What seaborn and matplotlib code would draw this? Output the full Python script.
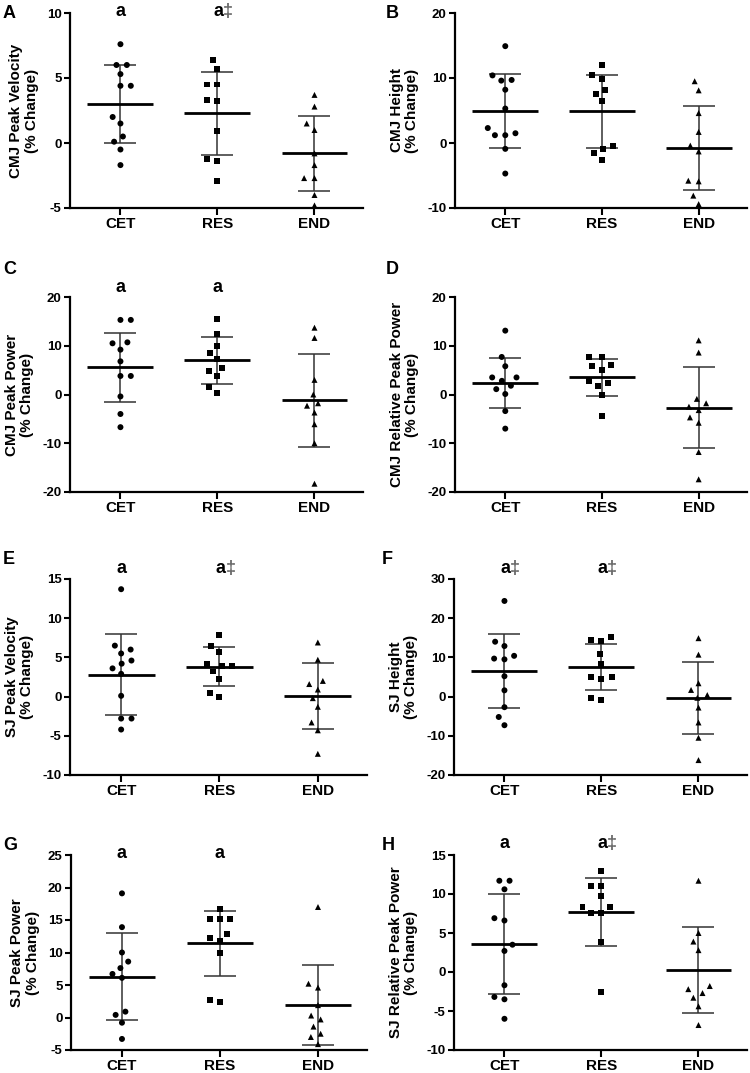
import pandas as pd
import matplotlib.pyplot as plt
import matplotlib.transforms as mtransforms
import seaborn as sns

groups = ['CET', 'RES', 'END']
markers = ['o', 's', '^']

# panel info
letters = ['A', 'B', 'C', 'D', 'E', 'F', 'G', 'H']
ylabels = ['CMJ Peak Velocity\n(% Change)', 'CMJ Height\n(% Change)',
           'CMJ Peak Power\n(% Change)', 'CMJ Relative Peak Power\n(% Change)',
           'SJ Peak Velocity\n(% Change)', 'SJ Height\n(% Change)',
           'SJ Peak Power\n(% Change)', 'SJ Relative Peak Power\n(% Change)']
ylims = [(-5, 10), (-10, 20), (-20, 20), (-20, 20),
         (-10, 15), (-20, 30), (-5, 25), (-10, 15)]
ysteps = [5, 10, 10, 10, 5, 10, 5, 5]
# significance marks above CET / RES / END
sig = [['a', 'a‡', ''], ['', '', ''], ['a', 'a', ''], ['', '', ''],
       ['a', 'a‡', ''], ['a‡', 'a‡', ''], ['a', 'a', ''], ['a', 'a‡', '']]

# individual % change values, per panel: CET, RES, END
cet = [
    [7.6, 6.0, 6.0, 5.3, 4.4, 4.4, 2.0, 1.5, 0.5, 0.1, -0.5, -1.7],
    [14.9, 10.4, 9.7, 9.6, 8.2, 5.3, 2.3, 1.5, 1.2, 1.2, -0.9, -4.7],
    [15.3, 15.3, 10.5, 10.7, 9.2, 6.8, 3.8, 3.8, -0.4, -4.0, -6.7],
    [13.1, 7.7, 5.8, 3.5, 3.5, 2.8, 1.8, 1.1, 0.1, -3.4, -7.0],
    [13.7, 6.5, 6.0, 5.5, 4.6, 4.2, 3.6, 2.9, 0.1, -2.8, -2.8, -4.2],
    [24.4, 14.0, 12.9, 10.4, 9.5, 9.7, 5.2, 1.6, -2.7, -5.2, -7.3],
    [19.1, 13.9, 10.0, 8.6, 7.6, 6.7, 6.1, 0.9, 0.4, -0.8, -3.3],
    [11.7, 11.7, 10.6, 6.9, 6.6, 3.5, 2.7, -1.7, -3.2, -3.5, -6.0],
]
res = [
    [6.4, 5.7, 4.5, 4.5, 3.3, 3.2, 0.9, -1.2, -1.4, -2.9],
    [12.0, 10.4, 9.8, 8.2, 7.6, 6.4, -0.4, -0.9, -1.6, -2.6],
    [15.5, 12.4, 10.0, 8.6, 7.3, 5.5, 4.9, 3.7, 1.5, 0.4],
    [7.7, 7.7, 6.0, 5.8, 5.1, 2.8, 2.3, 1.8, -0.1, -4.4],
    [7.9, 6.4, 5.7, 4.2, 3.9, 3.9, 3.2, 2.2, 0.5, 0.0],
    [15.1, 14.4, 14.1, 10.9, 8.4, 4.9, 4.5, 5.1, -0.4, -0.9],
    [16.7, 15.1, 15.1, 15.1, 12.8, 12.3, 11.7, 9.9, 2.7, 2.4],
    [12.9, 11.0, 11.0, 9.7, 8.3, 8.3, 7.6, 7.6, 3.9, -2.6],
]
end = [
    [3.7, 2.8, 1.5, 1.0, -0.8, -1.7, -2.7, -2.7, -4.0, -4.8],
    [9.5, 8.1, 4.6, 1.7, -0.4, -1.3, -5.9, -5.8, -8.1, -9.4],
    [13.7, 11.6, 3.0, 0.0, -1.8, -2.3, -3.7, -6.1, -10.0, -18.3],
    [11.1, 8.6, -0.9, -1.8, -2.5, -3.2, -4.7, -5.8, -11.8, -17.4],
    [6.9, 4.7, 2.0, 1.6, 0.9, -0.2, -1.3, -3.3, -4.3, -7.3],
    [14.9, 10.7, 3.4, 1.7, 0.4, -0.3, -2.8, -6.6, -10.5, -16.2],
    [17.0, 5.2, 4.6, 1.9, 0.3, -0.3, -1.4, -2.5, -3.0, -4.1],
    [11.7, 5.0, 3.9, 2.8, -1.8, -2.2, -2.7, -3.3, -4.4, -6.8],
]

# mean and SD per panel (CET, RES, END)
means = [[3.0, 2.3, -0.8], [4.9, 4.9, -0.8], [5.6, 7.0, -1.2], [2.3, 3.5, -2.7],
         [2.8, 3.8, 0.05], [6.6, 7.5, -0.3], [6.3, 11.4, 1.9], [3.6, 7.7, 0.3]]
sds = [[3.0, 3.2, 2.9], [5.7, 5.6, 6.5], [7.1, 4.8, 9.5], [5.1, 3.8, 8.3],
       [5.2, 2.5, 4.2], [9.4, 5.9, 9.2], [6.7, 5.0, 6.2], [6.4, 4.4, 5.5]]

sns.set_style('ticks')
plt.rcParams['font.family'] = ['Liberation Sans', 'DejaVu Sans']
plt.rcParams['font.weight'] = 'bold'
plt.rcParams['axes.labelweight'] = 'bold'
plt.rcParams['axes.unicode_minus'] = False
for key in ['text.color', 'axes.labelcolor', 'xtick.color', 'ytick.color']:
    plt.rcParams[key] = 'black'

W, H = 750, 1073
fig = plt.figure(figsize=(W / 100, H / 100), dpi=100)

# axes boxes in pixels: left, right, top, bottom
boxes = [(70, 363, 13, 208), (455, 747, 13, 208),
         (70, 363, 297, 492), (455, 747, 297, 492),
         (70, 367, 579, 775), (454, 747, 579, 775),
         (71, 367, 855, 1050), (454, 747, 855, 1050)]
letter_pos = [(3, 14), (386, 14), (3, 270), (386, 270),
              (3, 559), (382, 559), (3, 846), (382, 846)]
sig_y = [1.01, 1.0, 1.05, 1.0, 1.056, 1.056, 1.01, 1.06]

for k in range(8):
    l, r, t, b = boxes[k]
    ax = fig.add_axes([l / W, 1 - b / H, (r - l) / W, (b - t) / H])

    df = pd.DataFrame({
        'group': ['CET'] * len(cet[k]) + ['RES'] * len(res[k]) + ['END'] * len(end[k]),
        'value': cet[k] + res[k] + end[k],
    })
    for g, m in zip(groups, markers):
        sns.swarmplot(data=df[df['group'] == g], x='group', y='value', order=groups,
                      marker=m, color='black', size=4.3, linewidth=2.8,
                      edgecolor='none', ax=ax, zorder=3)

    for i in range(3):
        ax.errorbar(i, means[k][i], yerr=sds[k][i], fmt='none', ecolor='#333333',
                    elinewidth=1.1, capsize=11.5, capthick=1.1, zorder=2)
        ax.hlines(means[k][i], i - 0.34, i + 0.34, color='black', lw=2, zorder=4)

    ax.set_xlim(-0.52, 2.5)
    ax.set_ylim(*ylims[k])
    lo, hi = ylims[k]
    ax.set_yticks(range(lo, hi + 1, ysteps[k]))
    ax.set_xlabel('')
    ax.set_ylabel(ylabels[k], fontsize=11, fontweight='bold', labelpad=6,
                  linespacing=1.1)
    ax.tick_params(axis='y', labelsize=9.5, width=1.5, length=4, direction='out', pad=2)
    ax.tick_params(axis='x', labelsize=11, width=1.5, length=5, direction='out', pad=1.5)
    for lab in ax.get_xticklabels() + ax.get_yticklabels():
        lab.set_fontweight('bold')
    sns.despine(ax=ax)
    for s in ['left', 'bottom']:
        ax.spines[s].set_linewidth(1.6)
        ax.spines[s].set_color('black')

    trans = mtransforms.blended_transform_factory(ax.transData, ax.transAxes)
    for i, s in enumerate(sig[k]):
        if s == 'a':
            ax.text(i, sig_y[k], 'a', transform=trans, ha='center', va='center',
                    fontsize=13, fontweight='bold', color='black', clip_on=False)
        elif s == 'a‡':
            ax.text(i + 0.06, sig_y[k], 'a', transform=trans, ha='right', va='center',
                    fontsize=13, fontweight='bold', color='black', clip_on=False)
            ax.text(i + 0.06, sig_y[k], '‡', transform=trans, ha='left', va='center',
                    fontsize=13, fontweight='bold', color='#666666', clip_on=False)

    lx, ly = letter_pos[k]
    fig.text(lx / W, 1 - ly / H, letters[k], ha='left', va='center',
             fontsize=13, fontweight='bold')

fig.savefig('out.png', dpi=100)
